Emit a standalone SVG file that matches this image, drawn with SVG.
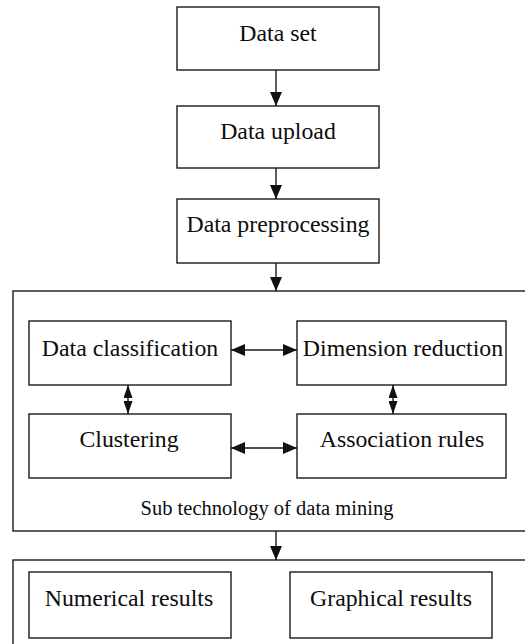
<svg xmlns="http://www.w3.org/2000/svg" width="525" height="644" viewBox="0 0 525 644">
  <style>
    .box { fill: #ffffff; stroke: #1a1a1a; stroke-width: 1.4; }
    .frame { fill: none; stroke: #1a1a1a; stroke-width: 1.4; }
    text { font-family: "Liberation Serif", "Times New Roman", serif; fill: #0d0d0d; text-anchor: middle; }
    .lbl { font-size: 23.8px; }
    .cap { font-size: 20.5px; }
    .wire { fill: none; stroke: #1a1a1a; stroke-width: 1.4; }
  </style>
  <defs>
    <marker id="head" markerUnits="userSpaceOnUse" markerWidth="14" markerHeight="12" viewBox="0 0 14 12" refX="14" refY="6" orient="auto-start-reverse">
      <path d="M0,0 L14,6 L0,12 Z" fill="#111111"/>
    </marker>
    <marker id="headSmall" markerUnits="userSpaceOnUse" markerWidth="13" markerHeight="9" viewBox="0 0 13 9" refX="13" refY="4.5" orient="auto-start-reverse">
      <path d="M0,0 L13,4.5 L0,9 Z" fill="#111111"/>
    </marker>
  </defs>

  <!-- outer frames -->
  <g id="mining-frame">
    <rect class="frame" x="13" y="291" width="530" height="240"/>
    <text class="cap" x="267" y="515">Sub technology of data mining</text>
  </g>
  <g id="results-frame">
    <rect class="frame" x="13" y="560" width="530" height="100"/>
  </g>

  <!-- pipeline steps -->
  <g id="data-set">
    <rect class="box" x="177" y="7" width="202" height="63"/>
    <text class="lbl" x="278" y="41">Data set</text>
  </g>
  <g id="data-upload">
    <rect class="box" x="177" y="106" width="202" height="62"/>
    <text class="lbl" x="278" y="139">Data upload</text>
  </g>
  <g id="data-preprocessing">
    <rect class="box" x="177" y="199" width="202" height="64"/>
    <text class="lbl" x="278" y="232">Data preprocessing</text>
  </g>

  <!-- mining sub-techniques -->
  <g id="data-classification">
    <rect class="box" x="29" y="321" width="202" height="64"/>
    <text class="lbl" x="130" y="356">Data classification</text>
  </g>
  <g id="dimension-reduction">
    <rect class="box" x="297" y="321" width="209" height="64"/>
    <text class="lbl" x="403" y="356">Dimension reduction</text>
  </g>
  <g id="clustering">
    <rect class="box" x="29" y="414" width="202" height="64"/>
    <text class="lbl" x="129" y="447">Clustering</text>
  </g>
  <g id="association-rules">
    <rect class="box" x="297" y="414" width="209" height="64"/>
    <text class="lbl" x="402" y="447">Association rules</text>
  </g>

  <!-- outputs -->
  <g id="numerical-results">
    <rect class="box" x="29" y="572" width="202" height="66"/>
    <text class="lbl" x="129" y="606">Numerical results</text>
  </g>
  <g id="graphical-results">
    <rect class="box" x="290" y="572" width="202" height="66"/>
    <text class="lbl" x="391" y="606">Graphical results</text>
  </g>

  <!-- connectors -->
  <g id="connectors">
    <line class="wire" x1="276" y1="70" x2="276" y2="106" marker-end="url(#head)"/>
    <line class="wire" x1="276" y1="168" x2="276" y2="199" marker-end="url(#head)"/>
    <line class="wire" x1="276" y1="263" x2="276" y2="291" marker-end="url(#head)"/>
    <line class="wire" x1="276" y1="531" x2="276" y2="560" marker-end="url(#head)"/>
    <line class="wire" x1="231" y1="350" x2="297" y2="350" marker-start="url(#head)" marker-end="url(#head)"/>
    <line class="wire" x1="231" y1="448" x2="297" y2="448" marker-start="url(#head)" marker-end="url(#head)"/>
    <line class="wire" x1="128" y1="385" x2="128" y2="414" marker-start="url(#headSmall)" marker-end="url(#headSmall)"/>
    <line class="wire" x1="393" y1="385" x2="393" y2="414" marker-start="url(#headSmall)" marker-end="url(#headSmall)"/>
  </g>
</svg>
